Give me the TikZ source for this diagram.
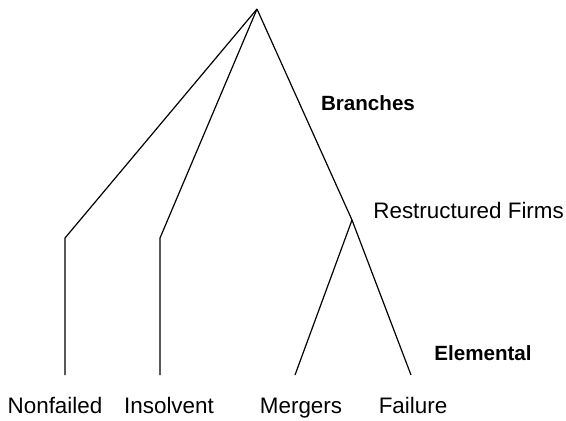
\documentclass[tikz,border=0pt]{standalone}
\usepackage{fontspec}
\setmainfont{Liberation Sans}
\usetikzlibrary{positioning}

\begin{document}
\begin{tikzpicture}[
    x=0.5pt, y=-0.5pt,
    branch/.style={line width=0.6pt, line join=round},
    leaf/.style={font=\fontsize{11.2}{13}\selectfont, inner sep=0pt, anchor=base},
    tag/.style={font=\fontsize{10.3}{12}\selectfont\bfseries, inner sep=0pt, anchor=base}
]
    \useasboundingbox (0,0) rectangle (566,420);

    % joints of the tree
    \coordinate (root) at (257,9);
    \coordinate (nfk) at (65,238);
    \coordinate (ink) at (160,238);
    \coordinate (rf) at (352,220);
    \coordinate (nfe) at (65,375);
    \coordinate (ine) at (160,375);
    \coordinate (mge) at (295,375);
    \coordinate (fle) at (411,375);

    % labels
    \node[leaf] (nonfailed) at (55,413) {Nonfailed};
    \node[leaf] (insolvent) at (169,413) {Insolvent};
    \node[leaf] (mergers) at (301,413) {Mergers};
    \node[leaf] (failure) at (413,413) {Failure};
    \node[leaf, anchor=base west] (restr) at (373,218) {Restructured Firms};
    \node[tag] (branches) at (368,110) {Branches};
    \node[tag] (elemental) at (483,360) {Elemental};

    \draw[branch] (root) -- (nfk) -- (nfe);
    \draw[branch] (root) -- (ink) -- (ine);
    \draw[branch] (root) -- (rf) -- (fle);
    \draw[branch] (rf) -- (mge);
\end{tikzpicture}
\end{document}
